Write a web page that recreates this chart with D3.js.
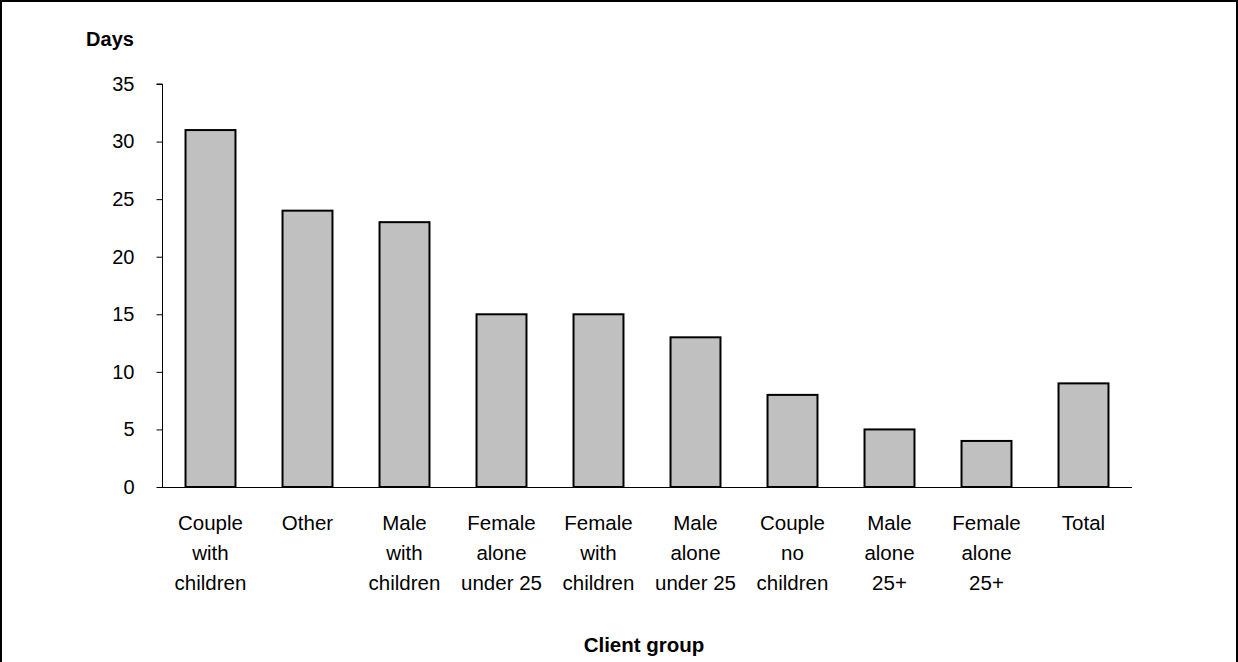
<!DOCTYPE html>
<html>
<head>
<meta charset="utf-8">
<script src="https://cdn.jsdelivr.net/npm/d3@7"></script>
<style>
  html, body { margin: 0; padding: 0; background: #fff; }
  svg { display: block; }
  text { font-family: "Liberation Sans", Arial, sans-serif; fill: #000; }
</style>
</head>
<body>
<script>
const categories = [
  ["Couple", "with", "children"],
  ["Other"],
  ["Male", "with", "children"],
  ["Female", "alone", "under 25"],
  ["Female", "with", "children"],
  ["Male", "alone", "under 25"],
  ["Couple", "no", "children"],
  ["Male", "alone", "25+"],
  ["Female", "alone", "25+"],
  ["Total"]
];
const values = [31, 24, 23, 15, 15, 13, 8, 5, 4, 9];
const yTicks = [0, 5, 10, 15, 20, 25, 30, 35];
const yTitle = "Days";
const xTitle = "Client group";

const W = 1238, H = 662;
const svg = d3.select("body").append("svg").attr("width", W).attr("height", H);

// outer frame (no bottom edge visible)
svg.append("path")
  .attr("d", `M1,${H} L1,1 L${W - 1},1 L${W - 1},${H}`)
  .attr("fill", "none").attr("stroke", "#000").attr("stroke-width", 2);

const x0 = 162, x1 = 1132, yTop = 84, yBot = 487;
const keys = categories.map((c, i) => i);
const x = d3.scaleBand().domain(keys).range([x0, x1]).paddingInner(0.485).paddingOuter(0.2425);
const y = d3.scaleLinear().domain([0, 35]).range([yBot, yTop]);

// bars
svg.append("g").selectAll("rect").data(values).enter().append("rect")
  .attr("x", (d, i) => x(i))
  .attr("y", d => y(d))
  .attr("width", x.bandwidth())
  .attr("height", d => y(0) - y(d))
  .attr("fill", "#c0c0c0")
  .attr("stroke", "#000")
  .attr("stroke-width", 2);

// y axis
const yAxis = d3.axisLeft(y).tickValues(yTicks).tickSize(6).tickPadding(22);
const gy = svg.append("g").attr("transform", `translate(${x0 + 0.5},0)`).call(yAxis);
gy.select(".domain").attr("d", `M-6,${y(35)}H0V${y(0)}`).attr("stroke", "#000");
gy.selectAll(".tick line").attr("stroke", "#000");
gy.selectAll(".tick text").attr("font-size", 20).attr("font-family", "Liberation Sans, Arial, sans-serif").attr("fill", "#000");

// x axis
const xAxis = d3.axisBottom(x).tickSize(0).tickFormat("");
const gx = svg.append("g").attr("transform", `translate(0,${yBot + 0.5})`).call(xAxis);
gx.select(".domain").attr("d", `M${x0},0H${x1}`).attr("stroke", "#000");

// category labels (multi-line)
const lbl = svg.append("g").selectAll("text").data(categories).enter().append("text")
  .attr("text-anchor", "middle")
  .attr("font-size", 20.5)
  .attr("x", (d, i) => x(i) + x.bandwidth() / 2)
  .attr("y", 529.5);
lbl.selectAll("tspan").data(d => d).enter().append("tspan")
  .attr("x", function () { return d3.select(this.parentNode).attr("x"); })
  .attr("dy", (d, j) => j === 0 ? 0 : 30)
  .text(d => d);

// titles
svg.append("text").attr("x", 110).attr("y", 46).attr("text-anchor", "middle")
  .attr("font-size", 20).attr("font-weight", "bold").text(yTitle);
svg.append("text").attr("x", 644).attr("y", 652).attr("text-anchor", "middle")
  .attr("font-size", 20.5).attr("font-weight", "bold").text(xTitle);
</script>
</body>
</html>
